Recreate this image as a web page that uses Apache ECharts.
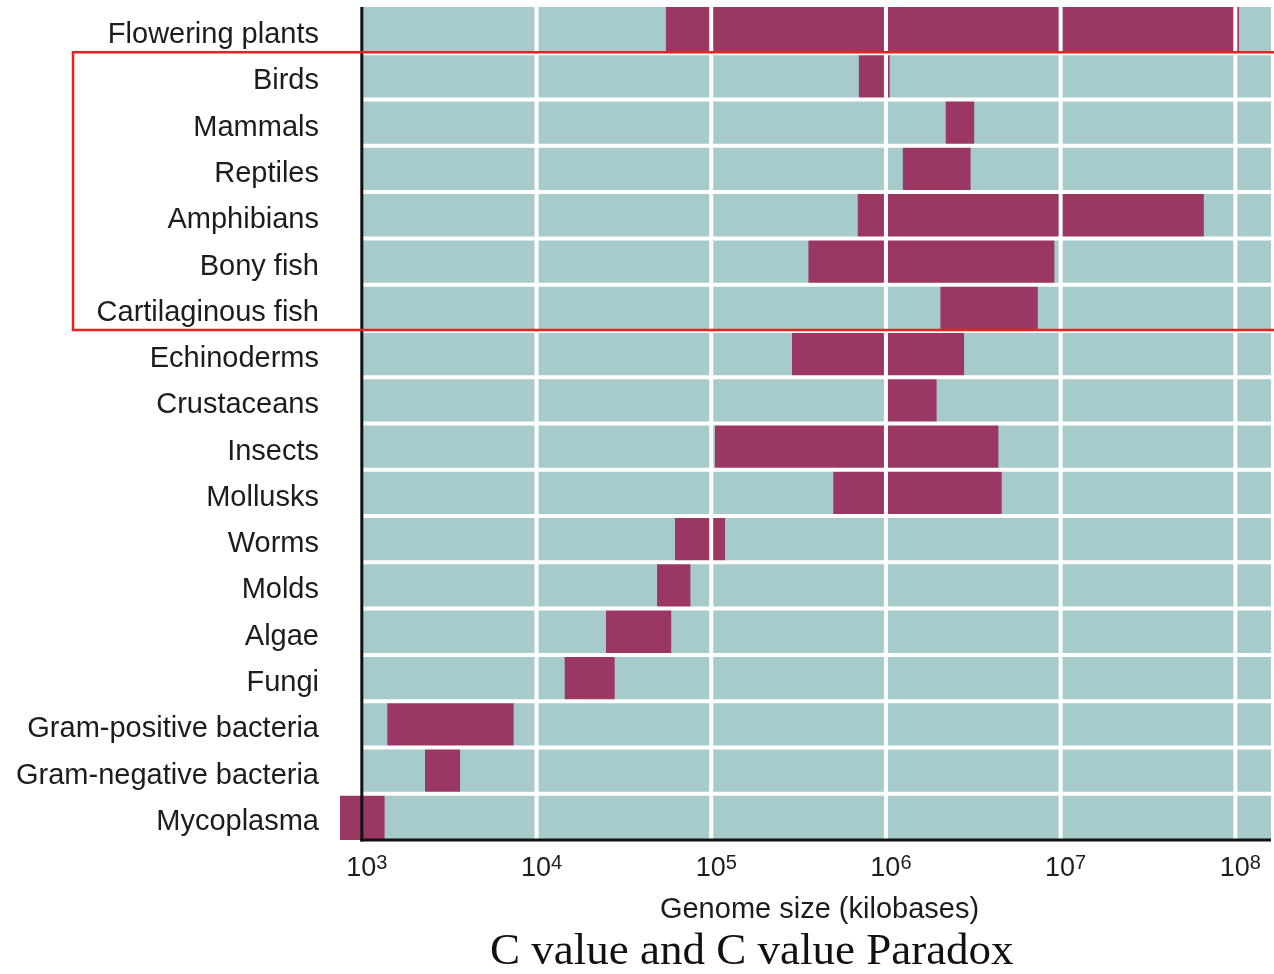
<!DOCTYPE html>
<html>
<head>
<meta charset="utf-8">
<title>C value and C value Paradox</title>
<script src="https://cdn.jsdelivr.net/npm/echarts@6/dist/echarts.min.js"></script>
<style>
  html, body { margin: 0; padding: 0; background: #ffffff; }
  #chart { width: 1274px; height: 974px; }
</style>
</head>
<body>
<div id="chart"></div>
<script>
// Groups of organisms, top to bottom
const categories = [
  'Flowering plants', 'Birds', 'Mammals', 'Reptiles', 'Amphibians', 'Bony fish',
  'Cartilaginous fish', 'Echinoderms', 'Crustaceans', 'Insects', 'Mollusks', 'Worms',
  'Molds', 'Algae', 'Fungi', 'Gram-positive bacteria', 'Gram-negative bacteria', 'Mycoplasma'
];
// Smallest and largest genome size in each group (kilobases)
const sizeLow = [
  5.5e4, 7.0e5, 2.2e6, 1.25e6, 6.9e5, 3.6e5,
  2.05e6, 2.9e5, 1.0e6, 1.05e5, 5.0e5, 6.2e4,
  4.9e4, 2.5e4, 1.45e4, 1.4e3, 2.3e3, 7.5e2
];
const sizeHigh = [
  1.05e8, 1.05e6, 3.2e6, 3.05e6, 6.6e7, 9.2e6,
  7.4e6, 2.8e6, 1.95e6, 4.4e6, 4.6e6, 1.2e5,
  7.6e4, 5.9e4, 2.8e4, 7.4e3, 3.65e3, 1.35e3
];
// Decades marked on the genome size axis
const decadeTicks = [1e3, 1e4, 1e5, 1e6, 1e7, 1e8];
// First and last group enclosed by the vertebrate frame
const framedGroups = ['Birds', 'Cartilaginous fish'];

const FONT = '"Liberation Sans", Arial, Helvetica, sans-serif';
const TEAL = '#a7cbca';
const BAR = '#9a3762';
const INK = '#1c1c1c';

const rangeData = categories.map((c, i) => [i, sizeLow[i], sizeHigh[i]]);

function isDecade(v) {
  const e = Math.log10(v);
  return Math.abs(e - Math.round(e)) < 1e-6;
}

// Row background plus the size range bar for one group
function renderRange(params, api) {
  const cs = params.coordSys;
  const row = api.value(0);
  const base = api.coord([decadeTicks[0], row]);
  const p0 = api.coord([api.value(1), row]);
  const p1 = api.coord([api.value(2), row]);
  const band = api.size([0, 1])[1];
  const top = base[1] - band / 2;
  return {
    type: 'group',
    children: [
      { type: 'rect', shape: { x: base[0], y: top, width: cs.x + cs.width - base[0], height: band },
        style: { fill: TEAL } },
      { type: 'rect', shape: { x: p0[0], y: top, width: p1[0] - p0[0], height: band },
        style: { fill: BAR } }
    ]
  };
}

// Row separators, decade lines, axis lines and the vertebrate frame
function renderOverlay(params, api) {
  const cs = params.coordSys;
  const top = cs.y, bottom = cs.y + cs.height, right = cs.x + cs.width;
  const children = [];
  for (let i = 0; i < categories.length - 1; i++) {
    const y = (api.coord([decadeTicks[0], i])[1] + api.coord([decadeTicks[0], i + 1])[1]) / 2;
    children.push({ type: 'line', shape: { x1: cs.x, y1: y, x2: right, y2: y },
      style: { stroke: '#ffffff', lineWidth: 4 } });
  }
  decadeTicks.slice(1).forEach(function (d) {
    const x = api.coord([d, 0])[0];
    children.push({ type: 'line', shape: { x1: x, y1: top, x2: x, y2: bottom },
      style: { stroke: '#ffffff', lineWidth: 4 } });
  });
  const x0 = api.coord([decadeTicks[0], 0])[0];
  children.push({ type: 'line', shape: { x1: x0, y1: top, x2: x0, y2: bottom + 1.5 },
    style: { stroke: '#111111', lineWidth: 3 } });
  children.push({ type: 'line', shape: { x1: x0 - 1.5, y1: bottom, x2: right, y2: bottom },
    style: { stroke: '#111111', lineWidth: 3 } });

  const a = categories.indexOf(framedGroups[0]);
  const b = categories.indexOf(framedGroups[1]);
  const yA = (api.coord([decadeTicks[0], a - 1])[1] + api.coord([decadeTicks[0], a])[1]) / 2;
  const yB = (api.coord([decadeTicks[0], b])[1] + api.coord([decadeTicks[0], b + 1])[1]) / 2;
  children.push({ type: 'rect', shape: { x: 73, y: yA - 1, width: right + 40 - 73, height: yB - yA },
    style: { fill: 'none', stroke: '#e3241f', lineWidth: 2.5 } });
  return { type: 'group', children: children };
}

const chart = echarts.init(document.getElementById('chart'), null, { renderer: 'canvas' });
chart.setOption({
  backgroundColor: '#ffffff',
  animation: false,
  title: {
    text: 'C value and C value Paradox',
    left: 490,
    top: 930,
    padding: 0,
    textStyle: { fontFamily: '"Liberation Serif", "Times New Roman", serif', fontSize: 45,
      fontWeight: 'normal', color: '#111111' }
  },
  grid: { left: 340, right: 0, top: 7, bottom: 134, containLabel: false },
  xAxis: {
    type: 'log',
    logBase: 10,
    min: 750,
    max: 1.6e8,
    name: 'Genome size (kilobases)',
    nameLocation: 'middle',
    nameGap: 55,
    nameTextStyle: { fontFamily: FONT, fontSize: 29, color: INK, padding: [0, 0, 0, 28] },
    axisLine: { show: false },
    axisTick: { show: false },
    splitLine: { show: false },
    axisLabel: {
      margin: 13,
      showMinLabel: true,
      showMaxLabel: true,
      formatter: function (v) {
        if (!isDecade(v)) return '';
        return '{b|10}{s|' + Math.round(Math.log10(v)) + '}';
      },
      rich: {
        b: { fontFamily: FONT, fontSize: 27, color: INK, padding: [0, 0, 0, 10] },
        s: { fontFamily: FONT, fontSize: 20, color: INK, padding: [0, 0, 12, 0] }
      }
    }
  },
  yAxis: {
    type: 'category',
    data: categories,
    inverse: true,
    axisLine: { show: false },
    axisTick: { show: false },
    splitLine: { show: false },
    axisLabel: { margin: 21, fontFamily: FONT, fontSize: 29, color: INK,
      verticalAlign: 'top', lineHeight: 10 }
  },
  series: [
    {
      type: 'custom',
      name: 'range',
      renderItem: renderRange,
      encode: { x: [1, 2], y: 0 },
      data: rangeData,
      clip: false,
      z: 2
    },
    {
      type: 'custom',
      name: 'overlay',
      renderItem: renderOverlay,
      encode: { y: 0 },
      data: [[0]],
      clip: false,
      silent: true,
      z: 3
    }
  ]
});
</script>
</body>
</html>
